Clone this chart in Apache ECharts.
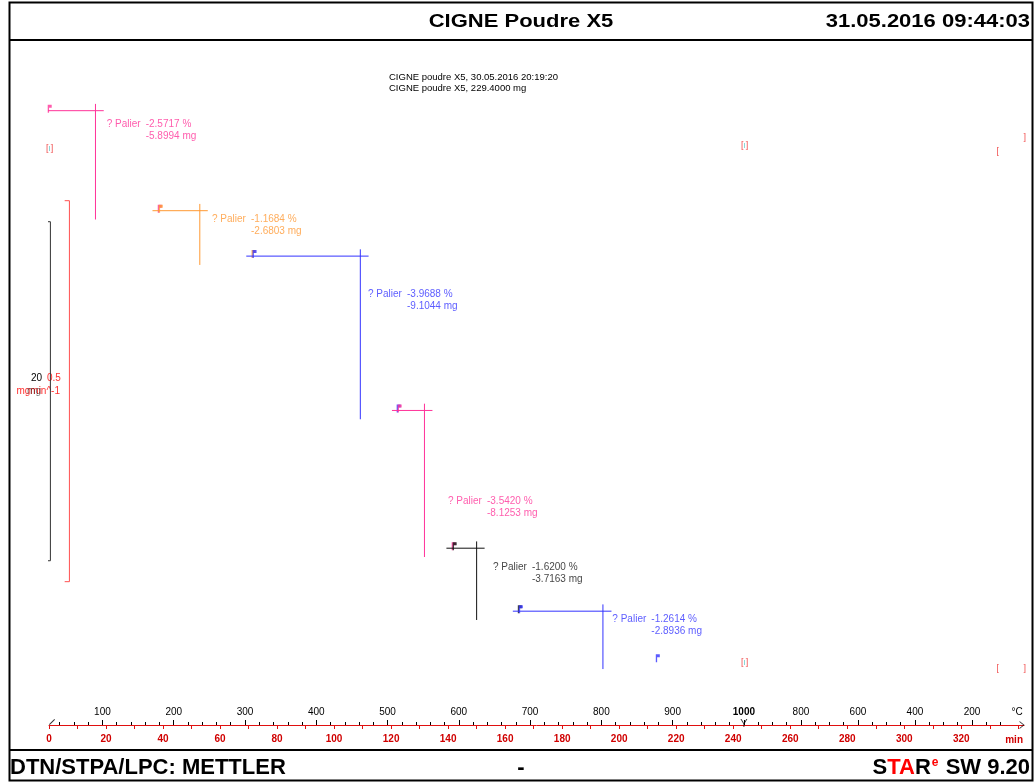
<!DOCTYPE html>
<html>
<head>
<meta charset="utf-8">
<script src="https://cdn.jsdelivr.net/npm/echarts@6/dist/echarts.min.js"></script>
<style>
  html, body { margin: 0; padding: 0; background: #fff; }
  #chart { width: 1035px; height: 783px; }
</style>
</head>
<body>
<div id="chart"></div>
<script>
// ---- Sample ----
const sampleName = 'CIGNE poudre X5';
const sampleMass = 229.4;                 // mg
const runDate = '30.05.2016 20:19:20';

// ---- Step evaluations (TGA, "Palier") ----
const stepPercent = [-2.5717, -1.1684, -3.9688, -3.5420, -1.6200, -1.2614];
const stepMass    = [-5.8994, -2.6803, -9.1044, -8.1253, -3.7163, -2.8936];   // mg
const stepStart   = [-2.5, 36.3, 69.2, 120.3, 139.4, 162.7];   // min, baseline start
const stepTime    = [16.3, 52.9, 109.2, 131.7, 150.0, 194.3];  // min, step position
const stepEnd     = [19.2, 55.7, 112.1, 134.5, 152.8, 197.3];  // min, baseline end
const limitTimes  = [0.25, 39.2, 72.1, 123.0, 142.3, 165.5, 213.9]; // min, evaluation limits

// ---- Curve segment brackets [min, mg, glyph] ----
const segmentMarks = [
  [0.25, 227.14, '[]'], [244.0, 227.32, '[]'], [244.0, 196.82, '[]'],
  [332.8, 227.02, '['], [342.3, 227.79, ']'], [332.8, 196.47, '['], [342.3, 196.47, ']']
];

// ---- Time axis ----
const timeMax = 342;
const timeTicks = [0,10,20,30,40,50,60,70,80,90,100,110,120,130,140,150,160,170,180,190,200,
                   210,220,230,240,250,260,270,280,290,300,310,320,330,340];
const timeLabels = [0,20,40,60,80,100,120,140,160,180,200,220,240,260,280,300,320];

// ---- Temperature program (°C) ----
const tempStart = 25, heatRate = 4, tempMax = 1000, coolRate = 10;
const heatLabels = [100,200,300,400,500,600,700,800,900,1000];
const coolLabels = [800,600,400,200];
const heatMinor = [40,60,80,120,140,160,180,220,240,260,280,320,340,360,380,420,440,460,480,
                   520,540,560,580,620,640,660,680,720,740,760,780,820,840,860,880,920,940,960,980];
const coolMinor = [950,900,850,750,700,650,550,500,450,350,300,250,150,100];

// ---- Scale bars ----
const massBar = 20;     // mg
const dtgBar = 0.5;     // mg min^-1

// ---- Hidden value ranges ----
const massMin = 193.16, massMax = 233.57;
const dtgMin = -0.4381, dtgMax = 0.4609;

// layout of the result labels [min, mg] (top-left of the text block)
const labelAnchor = [[20.24,228.97],[57.17,223.35],[111.89,218.90],[139.95,206.69],[155.73,202.82],[197.61,199.77]];

const PINK = '#ff3399', ORANGE = '#ff9933', BLUE = '#3333ff', BLACK = '#111111', RED = '#e01010';
const stepColors = [PINK, ORANGE, BLUE, PINK, BLACK, BLUE];
const FONT = '"Liberation Sans", Arial, sans-serif';

// time of a point of the temperature program
const heatT = T => (T - tempStart) / heatRate;
const coolT = T => (tempMax - tempStart) / heatRate + (tempMax - T) / coolRate;

const tempLabelMap = {};
heatLabels.forEach(T => { tempLabelMap[heatT(T).toFixed(2)] = T; });
coolLabels.forEach(T => { tempLabelMap[coolT(T).toFixed(2)] = T; });
const tempMajorTimes = heatLabels.map(heatT).concat(coolLabels.map(coolT));
const tempMinorTimes = heatMinor.map(heatT).concat(coolMinor.map(coolT));

// baseline levels before each step
const levels = [];
let cur = sampleMass;
stepMass.forEach(d => { levels.push(cur); cur += d; });
const finalLevel = cur;
const extTop = 0.40, extBottom = 0.52;

const series = [];

stepMass.forEach((d, i) => {
  const c = stepColors[i];
  series.push({
    type: 'line', xAxisIndex: 0, yAxisIndex: 0, silent: true, clip: false,
    symbol: 'none', lineStyle: { color: c, width: 1 }, animation: false,
    data: [[stepStart[i], levels[i]], [stepEnd[i], levels[i]]]
  });
  series.push({
    type: 'line', xAxisIndex: 0, yAxisIndex: 0, silent: true, clip: false,
    symbol: 'none', lineStyle: { color: c, width: 1 }, animation: false,
    data: [[stepTime[i], levels[i] + extTop], [stepTime[i], levels[i] + d - extBottom]]
  });
  series.push({
    type: 'scatter', xAxisIndex: 0, yAxisIndex: 0, silent: true, clip: false,
    symbolSize: 0, animation: false,
    data: [labelAnchor[i]],
    label: {
      show: true, position: [0, 0], align: 'left', verticalAlign: 'top',
      formatter: '{a|? Palier}{b|' + stepPercent[i].toFixed(4) + ' %}\n{a|}{b|' + d.toFixed(4) + ' mg}',
      rich: {
        a: { width: 39, fontSize: 10, fontFamily: FONT, color: c, lineHeight: 12 },
        b: { fontSize: 10, fontFamily: FONT, color: c, lineHeight: 12 }
      }
    }
  });
});

// evaluation limit pins
const PIN = 'path://M1,0 L4,0 L4,3 L2,3 L2,8 L1,8 Z';
const pinLevel = i => (i < levels.length ? levels[i] : finalLevel);
series.push({
  type: 'scatter', xAxisIndex: 0, yAxisIndex: 0, silent: true, clip: false, animation: false,
  symbol: PIN, symbolSize: [4, 8], symbolOffset: [-1, -2],
  data: limitTimes.slice(1).map((t, k) => ({ value: [t, pinLevel(k + 1)], itemStyle: { color: stepColors[k] } }))
});
series.push({
  type: 'scatter', xAxisIndex: 0, yAxisIndex: 0, silent: true, clip: false, animation: false,
  symbol: PIN, symbolSize: [4, 8], symbolOffset: [0, -2],
  data: limitTimes.slice(0, 6).map((t, k) => ({ value: [t, pinLevel(k)], itemStyle: { color: stepColors[k] } }))
});

// curve segment brackets
series.push({
  type: 'scatter', xAxisIndex: 0, yAxisIndex: 0, silent: true, clip: false, animation: false,
  symbolSize: 0,
  data: segmentMarks.map(s => ({ value: [s[0], s[1]], name: s[2] })),
  label: {
    show: true, position: [0, 0], align: 'center', verticalAlign: 'middle',
    formatter: p => p.name === '[]' ? '{r|[}{c|I}{r|]}' : '{r|' + p.name + '}',
    rich: {
      r: { color: '#ee2020', fontSize: 9, fontFamily: FONT },
      c: { color: '#40c0c0', fontSize: 8, fontFamily: FONT }
    }
  }
});

// scale bars
const barMassTop = 222.85, barTx = 0.49, barTick = -1.26;
series.push({
  type: 'line', xAxisIndex: 0, yAxisIndex: 0, silent: true, clip: false, animation: false,
  symbol: 'none', lineStyle: { color: '#333', width: 1 },
  data: [[barTick, barMassTop], [barTx, barMassTop], [barTx, barMassTop - massBar], [barTick, barMassTop - massBar]]
});
const dtgTx = 7.16, dtgTick = 5.5;
series.push({
  type: 'line', xAxisIndex: 0, yAxisIndex: 1, silent: true, clip: false, animation: false,
  symbol: 'none', lineStyle: { color: '#ff5050', width: 1 },
  data: [[dtgTick, dtgBar / 2], [dtgTx, dtgBar / 2], [dtgTx, -dtgBar / 2], [dtgTick, -dtgBar / 2]]
});

// axis glyphs: start slash, temperature maximum, arrow head
series.push({
  type: 'scatter', xAxisIndex: 0, yAxisIndex: 0, silent: true, clip: false, animation: false,
  z: 5,
  data: [
    { value: [0, massMin], symbol: 'path://M0,6 L6,0 L6.8,0.8 L0.8,6.8 Z', symbolSize: [6, 6], symbolOffset: [3, -3], itemStyle: { color: '#000' } },
    { value: [coolT(tempMax), massMin], symbol: 'path://M0,0 L0.9,0 L3,4 L5.1,0 L6,0 L3.4,5 L3.4,8 L2.6,8 L2.6,5 Z', symbolSize: [7, 8], symbolOffset: [0, -2], itemStyle: { color: '#000' } },
    { value: [timeMax, massMin], symbol: 'path://M0,0 L6,4 L0,8 L0,7 L4.5,4 L0,1 Z', symbolSize: [5, 8], symbolOffset: [-2, 0], itemStyle: { color: '#000' } }
  ]
});

const axisBase = { type: 'value', min: 0, max: timeMax, position: 'bottom', splitLine: { show: false } };

const option = {
  backgroundColor: '#fff',
  animation: false,
  grid: { left: 49, right: 11, top: 40, bottom: 58, containLabel: false },
  xAxis: [
    Object.assign({}, axisBase, {
      axisLine: { show: true, onZero: false, lineStyle: { color: RED, width: 1 } },
      axisTick: { show: true, inside: false, length: 4, customValues: timeTicks, lineStyle: { color: RED } },
      axisLabel: {
        show: true, customValues: timeLabels, margin: 9,
        color: '#d00000', fontSize: 10, fontWeight: 'bold', fontFamily: FONT
      }
    }),
    Object.assign({}, axisBase, {
      axisLine: { show: false, onZero: false },
      axisTick: { show: true, inside: true, length: 5, customValues: tempMajorTimes, lineStyle: { color: '#000' } },
      axisLabel: {
        show: true, inside: true, customValues: tempMajorTimes, margin: 8,
        color: '#000', fontSize: 10, fontFamily: FONT,
        formatter: v => {
          const T = tempLabelMap[v.toFixed(2)];
          return T === tempMax ? '{b|' + T + '}' : String(T);
        },
        rich: { b: { fontWeight: 'bold', fontSize: 10, fontFamily: FONT, color: '#000' } }
      }
    }),
    Object.assign({}, axisBase, {
      axisLine: { show: false, onZero: false },
      axisTick: { show: true, inside: true, length: 3, customValues: tempMinorTimes, lineStyle: { color: '#000' } },
      axisLabel: { show: false }
    })
  ],
  yAxis: [
    { type: 'value', min: massMin, max: massMax, show: false, splitLine: { show: false } },
    { type: 'value', min: dtgMin, max: dtgMax, show: false, splitLine: { show: false } }
  ],
  series: series,
  graphic: [
    // frame
    { type: 'rect', shape: { x: 9.5, y: 2.5, width: 1023, height: 778 }, style: { fill: null, stroke: '#000', lineWidth: 2 }, silent: true },
    { type: 'line', shape: { x1: 9, y1: 40, x2: 1033, y2: 40 }, style: { stroke: '#000', lineWidth: 2 }, silent: true },
    { type: 'line', shape: { x1: 9, y1: 750, x2: 1033, y2: 750 }, style: { stroke: '#000', lineWidth: 2 }, silent: true },
    // title bar
    { type: 'text', x: 521, y: 22, scaleY: 0.86, silent: true,
      style: { text: 'CIGNE Poudre X5', x: 0, y: 0, align: 'center', verticalAlign: 'middle', font: 'bold 22px ' + FONT, fill: '#000' } },
    { type: 'text', x: 1030, y: 22, scaleY: 0.86, silent: true,
      style: { text: '31.05.2016 09:44:03', x: 0, y: 0, align: 'right', verticalAlign: 'middle', font: 'bold 22px ' + FONT, fill: '#000' } },
    // sample info
    { type: 'text', silent: true,
      style: { text: sampleName + ', ' + runDate, x: 389, y: 77, align: 'left', verticalAlign: 'middle', font: '9.5px ' + FONT, fill: '#000' } },
    { type: 'text', silent: true,
      style: { text: sampleName + ', ' + sampleMass.toFixed(4) + ' mg', x: 389, y: 88.5, align: 'left', verticalAlign: 'middle', font: '9.5px ' + FONT, fill: '#000' } },
    // scale bar captions
    { type: 'text', silent: true, style: { text: String(massBar), x: 42, y: 378, align: 'right', verticalAlign: 'middle', font: '10px ' + FONT, fill: '#000' } },
    { type: 'text', silent: true, style: { text: 'mgmin^-1', x: 60, y: 391, align: 'right', verticalAlign: 'middle', font: '10px ' + FONT, fill: '#ff3030' } },
    { type: 'text', silent: true, style: { text: 'mg', x: 41, y: 391, align: 'right', verticalAlign: 'middle', font: '10px ' + FONT, fill: 'rgba(0,0,0,0.55)' } },
    { type: 'text', silent: true, style: { text: String(dtgBar), x: 47, y: 378, align: 'left', verticalAlign: 'middle', font: '10px ' + FONT, fill: '#ff3030' } },
    // axis units
    { type: 'text', silent: true, style: { text: '°C', x: 1017, y: 712, align: 'center', verticalAlign: 'middle', font: '10px ' + FONT, fill: '#000' } },
    { type: 'text', silent: true, style: { text: 'min', x: 1023, y: 740, align: 'right', verticalAlign: 'middle', font: 'bold 10px ' + FONT, fill: '#d00000' } },
    // footer
    { type: 'text', silent: true,
      style: { text: 'DTN/STPA/LPC: METTLER', x: 10, y: 768, align: 'left', verticalAlign: 'middle', font: 'bold 22px ' + FONT, fill: '#000' } },
    { type: 'text', silent: true,
      style: { text: '-', x: 521, y: 768, align: 'center', verticalAlign: 'middle', font: 'bold 22px ' + FONT, fill: '#000' } },
    { type: 'text', silent: true,
      style: {
        text: '{k|S}{r|TA}{k|R}{s|e}{k| SW 9.20}', x: 1030, y: 768, align: 'right', verticalAlign: 'middle',
        rich: {
          k: { font: 'bold 22px ' + FONT, fill: '#000' },
          r: { font: 'bold 22px ' + FONT, fill: '#ff0000' },
          s: { font: 'bold 12px ' + FONT, fill: '#ff0000', verticalAlign: 'top', padding: [0, 1, 10, 1] }
        }
      } }
  ]
};

const chart = echarts.init(document.getElementById('chart'), null, { renderer: 'canvas' });
chart.setOption(option);
</script>
</body>
</html>
